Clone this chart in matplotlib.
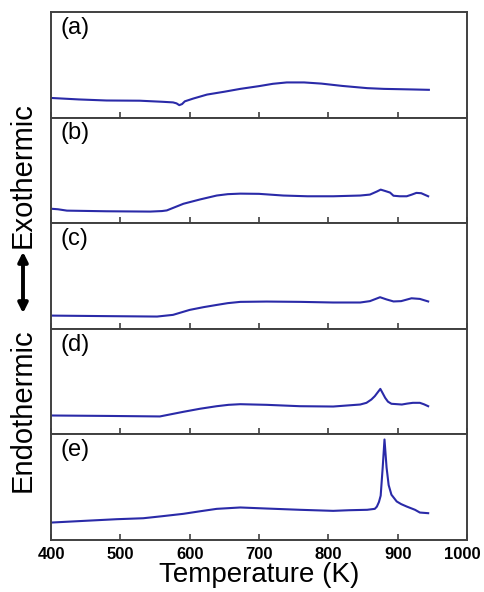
import matplotlib
matplotlib.use("Agg")
import matplotlib.pyplot as plt
import matplotlib.transforms as mtransforms
from matplotlib.patches import FancyArrowPatch

# DTA traces (temperature in K, normalised signal per panel)
temp_a = [400, 440, 480, 528, 560, 576, 581, 585, 589, 593, 605, 625, 650, 673, 700,
          720, 740, 765, 790, 820, 856, 880, 903, 925, 945]
sig_a = [0.186, 0.172, 0.162, 0.160, 0.150, 0.144, 0.135, 0.118, 0.128, 0.154, 0.180,
         0.218, 0.245, 0.272, 0.298, 0.320, 0.333, 0.333, 0.322, 0.300, 0.279, 0.272,
         0.269, 0.266, 0.263]

temp_b = [400, 410, 423, 480, 543, 560, 567, 591, 615, 639, 655, 673, 700, 735, 770,
          807, 846, 860, 870, 875.5, 882, 889, 894, 903, 913, 920, 927, 934, 944]
sig_b = [0.137, 0.132, 0.119, 0.113, 0.110, 0.115, 0.121, 0.184, 0.225, 0.262, 0.275,
         0.280, 0.278, 0.262, 0.255, 0.255, 0.262, 0.271, 0.300, 0.318, 0.305, 0.290,
         0.260, 0.255, 0.255, 0.270, 0.287, 0.284, 0.255]

temp_c = [400, 480, 553, 576, 600, 620, 639, 655, 673, 711, 760, 807, 846, 860, 874.6,
          884, 894, 905, 920, 932, 944]
sig_c = [0.125, 0.120, 0.116, 0.132, 0.179, 0.205, 0.226, 0.243, 0.255, 0.258, 0.255,
         0.249, 0.249, 0.262, 0.299, 0.278, 0.259, 0.262, 0.289, 0.283, 0.259]

temp_d = [400, 480, 557, 591, 615, 639, 656, 673, 711, 759, 807, 846, 855, 862, 867,
          875, 878, 882, 886, 891, 906, 914, 922, 932, 938, 944]
sig_d = [0.179, 0.175, 0.170, 0.214, 0.243, 0.267, 0.280, 0.286, 0.280, 0.267, 0.264,
         0.283, 0.299, 0.330, 0.362, 0.431, 0.395, 0.346, 0.310, 0.290, 0.283, 0.292,
         0.299, 0.299, 0.285, 0.267]

temp_e = [400, 450, 495, 533, 560, 591, 615, 639, 673, 711, 759, 807, 830, 856, 867,
          870, 873, 875.5, 878.4, 881, 884, 887, 891, 898.6, 905, 913, 925, 932, 944]
sig_e = [0.165, 0.182, 0.197, 0.206, 0.225, 0.248, 0.272, 0.295, 0.308, 0.298, 0.286,
         0.276, 0.282, 0.286, 0.295, 0.316, 0.360, 0.420, 0.686, 0.952, 0.686, 0.520,
         0.429, 0.365, 0.340, 0.317, 0.286, 0.260, 0.254]

panel_labels = ["(a)", "(b)", "(c)", "(d)", "(e)"]
x_ticks = [400, 500, 600, 700, 800, 900, 1000]
x_label = "Temperature (K)"
exo_label = "Exothermic"
endo_label = "Endothermic"

series = [(temp_a, sig_a), (temp_b, sig_b), (temp_c, sig_c),
          (temp_d, sig_d), (temp_e, sig_e)]

line_color = "#2a2aa8"
spine_color = "#404040"
sans = ["Liberation Sans", "DejaVu Sans"]
tick_font = ["Liberation Sans Narrow", "Liberation Sans", "DejaVu Sans"]

fig, axes = plt.subplots(5, 1, sharex=True, figsize=(4.84, 5.92), dpi=100)
fig.subplots_adjust(left=51 / 484, right=467 / 484, top=1 - 12 / 592,
                    bottom=1 - 540 / 592, hspace=0)

for ax, (t, s), lab in zip(axes, series, panel_labels):
    ax.plot(t, s, color=line_color, lw=1.5, solid_joinstyle="round")
    ax.set_xlim(400, 1000)
    ax.set_ylim(0, 1)
    ax.set_yticks([])
    for sp in ax.spines.values():
        sp.set_color(spine_color)
        sp.set_linewidth(1.4)
    ax.tick_params(axis="x", direction="in", length=4, width=1.2,
                   color=spine_color, top=False, bottom=True, pad=5)
    ax.text(0.022, 0.85, lab, transform=ax.transAxes, fontsize=17,
            family=sans, va="center", ha="left")

bottom_ax = axes[-1]
bottom_ax.set_xticks(x_ticks)
bottom_ax.set_xticklabels([str(v) for v in x_ticks], family=tick_font,
                          fontweight="bold", fontsize=12)
# nudge the last tick label inward so it stays on the canvas
last = bottom_ax.get_xticklabels()[-1]
last.set_transform(last.get_transform() +
                   mtransforms.ScaledTranslation(-5 / 100, 0, fig.dpi_scale_trans))
bottom_ax.set_xlabel(x_label, family=sans, fontsize=20, labelpad=0)

# vertical heat-flow annotation on the left
fig.text(23 / 484, 1 - 175 / 592, exo_label, rotation=90, ha="center",
         va="center", fontsize=21, family=sans)
fig.text(23 / 484, 1 - 410 / 592, endo_label, rotation=90, ha="center",
         va="center", fontsize=21, family=sans)
arrow = FancyArrowPatch((23 / 484, 1 - 316 / 592), (23 / 484, 1 - 249 / 592),
                        transform=fig.transFigure, arrowstyle="<|-|>",
                        mutation_scale=14, lw=2.8, color="black")
fig.add_artist(arrow)

fig.savefig("out.png", dpi=100, facecolor="white")
